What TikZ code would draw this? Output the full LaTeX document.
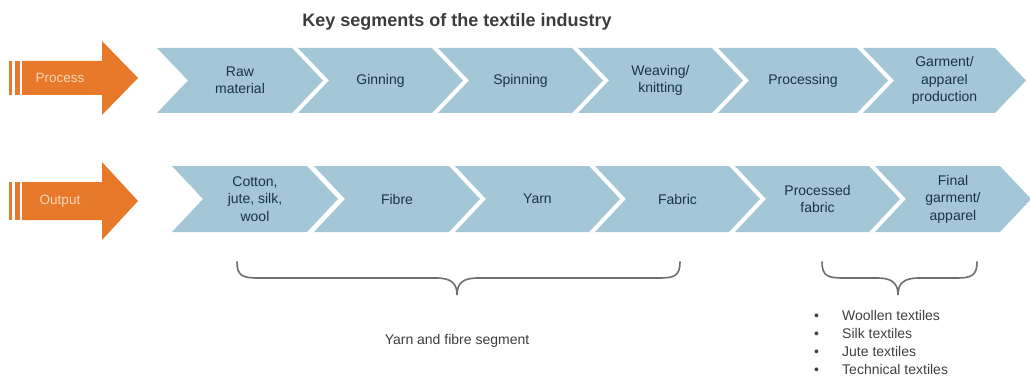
\documentclass[tikz,border=0pt]{standalone}
\usepackage{fontspec}
\setmainfont{Liberation Sans}
\definecolor{chevfill}{HTML}{A3C7D6}
\definecolor{chevtext}{HTML}{1B3346}
\definecolor{arroworange}{HTML}{E8782A}
\definecolor{arrowtext}{HTML}{FAD9B8}
\definecolor{bracegray}{HTML}{6E6E6E}
\definecolor{titlegray}{HTML}{3C3C3C}
\definecolor{listgray}{HTML}{404040}

% chevron: name, left x, right x, top y, bottom y, label
\newcommand{\chevron}[6]{%
  \fill[chevfill] (#2,#4) -- (#3,#4) -- ({#3+31},{(#4+#5)/2}) -- (#3,#5)
    -- (#2,#5) -- ({#2+31},{(#4+#5)/2}) -- cycle;
  \node[chevlabel] (#1) at ({(#2+#3+31)/2},{(#4+#5)/2}) {#6};
}
% block arrow with two stripes: name, centre y, shaft half height, head half height, label
\newcommand{\blockarrow}[5]{%
  \fill[arroworange] (9,{#2-#3}) rectangle (12,{#2+#3});
  \fill[arroworange] (15,{#2-#3}) rectangle (19.5,{#2+#3});
  \fill[arroworange] (22,{#2-#3}) -- (102,{#2-#3}) -- (102,{#2-#4}) -- (138,#2)
    -- (102,{#2+#4}) -- (102,{#2+#3}) -- (22,{#2+#3}) -- cycle;
  \node[arrowlabel] (#1) at (60,#2) {#5};
}

\begin{document}
\begin{tikzpicture}[x=1pt,y=-1pt,
  chevlabel/.style={text=chevtext, align=center, inner sep=0pt,
    font=\fontsize{14}{17.5}\selectfont},
  arrowlabel/.style={text=arrowtext, inner sep=0pt, font=\fontsize{13.5}{15}\selectfont},
  bracestyle/.style={draw=bracegray, line width=1.6pt, line cap=round},
  listtext/.style={text=listgray, anchor=base west, inner sep=0pt,
    font=\fontsize{14}{16}\selectfont},
  captiontext/.style={text=titlegray, anchor=base, inner sep=0pt,
    font=\fontsize{14}{16}\selectfont}]
\useasboundingbox (0,0) rectangle (1030,377);
\clip (0,0) rectangle (1030,377);

% title
\node[captiontext, font=\bfseries\fontsize{18}{20}\selectfont] (title) at (457,27)
  {Key segments of the textile industry};

% process row
\blockarrow{process}{78}{17}{37}{Process}
\chevron{raw}{157}{292}{48}{113}{Raw\\material}
\chevron{ginning}{298}{432}{48}{113}{Ginning}
\chevron{spinning}{438}{572}{48}{113}{Spinning}
\chevron{weaving}{578}{712}{48}{113}{Weaving/\\knitting}
\chevron{processing}{718}{857}{48}{113}{Processing}
\chevron{garment}{863}{995}{48}{113}{Garment/\\apparel\\production}

% output row
\blockarrow{output}{201}{19}{39}{Output}
\chevron{cotton}{172}{307}{166}{232}{Cotton,\\jute, silk,\\wool}
\chevron{fibre}{314}{449}{166}{232}{Fibre}
\chevron{yarn}{455}{589}{166}{232}{Yarn}
\chevron{fabric}{595}{729}{166}{232}{Fabric}
\chevron{processed}{735}{869}{166}{232}{Processed\\fabric}
\chevron{final}{875}{1000}{166}{232}{Final\\garment/\\apparel}

% brace under the yarn and fibre segment
\draw[bracestyle] (237,262) .. controls (237,276) and (243,278) .. (258,278)
  -- (436,278) .. controls (451,278) and (457,283) .. (457,295)
  .. controls (457,283) and (463,278) .. (478,278)
  -- (659,278) .. controls (674,278) and (680,276) .. (680,262);
\node[captiontext] (yarnfibre) at (457,344) {Yarn and fibre segment};

% brace under the processing and garment segment
\draw[bracestyle] (822,262) .. controls (822,276) and (828,278) .. (843,278)
  -- (877,278) .. controls (892,278) and (898,283) .. (898,295)
  .. controls (898,283) and (904,278) .. (919,278)
  -- (956,278) .. controls (971,278) and (977,276) .. (977,262);

% segment list
\foreach \i/\txt [count=\k] in {320/Woollen textiles, 338/Silk textiles,
    356/Jute textiles, 374/Technical textiles}{
  \node[listtext] (bullet\k) at (814,\i) {•};
  \node[listtext] (item\k) at (842,\i) {\txt};
}
\end{tikzpicture}
\end{document}
